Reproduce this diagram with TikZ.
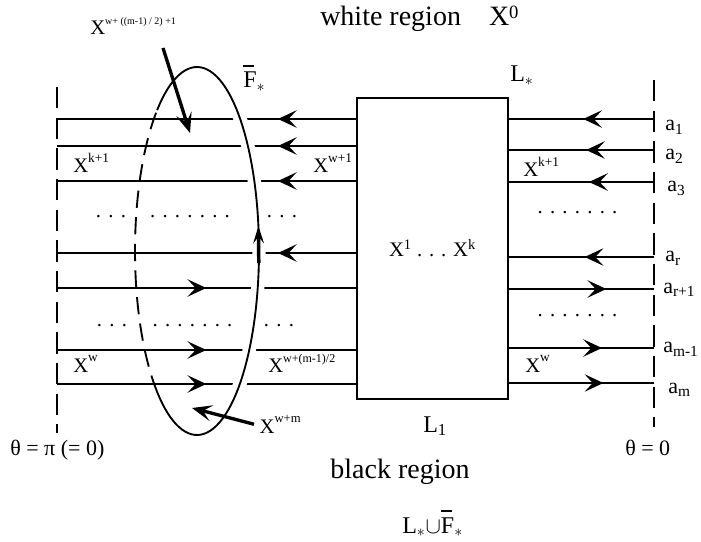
\documentclass[tikz,border=0pt]{standalone}
\usepackage{fontspec}
\setmainfont{Liberation Serif}
\usepackage{tikz}
\usetikzlibrary{arrows.meta,positioning,decorations.markings}
\newcommand{\dd}{\hspace{5.45pt}}
\newcommand{\barF}{\leavevmode\rlap{\raisebox{0.86em}{\rule{0.45em}{0.1em}}}F}
\newcommand{\xsup}[2]{\raisebox{0.5em}{\fontsize{#1}{#1}\selectfont #2}}
\tikzset{
  border/.style={line width=1pt, dash pattern=on 16pt off 7pt},
  flowline/.style={line width=2pt},
  midarrow/.style={postaction={decorate}, decoration={markings, mark=at position #1 with {\arrow{Stealth[length=14pt,width=13pt,inset=6pt]}}}},
  blackbox/.style={draw, line width=2.2pt, minimum width=113.25pt, minimum height=225.75pt, inner sep=0pt, font=\fontsize{15.5}{18}\selectfont},
  fstarline/.style={line width=1.4pt, preaction={draw=white, line width=10pt}},
  fstardash/.style={line width=1.4pt, dash pattern=on 13pt off 7pt},
  pointer/.style={line width=2.5pt, -{Stealth[length=15pt,width=12pt,inset=6.5pt]}},
  uparrow/.style={line width=2.6pt, -{Stealth[length=13pt,width=8pt,inset=5pt]}},
  xlbl/.style={inner sep=0pt, anchor=base west, font=\fontsize{15.5}{18}\selectfont},
  albl/.style={inner sep=0pt, anchor=base west, font=\fontsize{16.5}{19}\selectfont},
  llbl/.style={inner sep=0pt, anchor=base west, font=\fontsize{18}{21}\selectfont},
  regionlbl/.style={inner sep=0pt, font=\fontsize{21}{24}\selectfont},
  dotrow/.style={inner sep=0pt, anchor=base, font=\fontsize{15.5}{18}\selectfont}
}
\begin{document}
\begin{tikzpicture}[x=0.75pt, y=-0.75pt]
  \useasboundingbox (0,0) rectangle (701,542);

  % theta = pi and theta = 0
  \coordinate (ltop) at (57,87);
  \coordinate (lbot) at (57,433);
  \coordinate (rtop) at (654,80);
  \coordinate (rbot) at (654,427);
  \draw[border] (ltop) -- (lbot);
  \draw[border] (rtop) -- (rbot);

  \node[blackbox] (box) at (432.5,248.5) {X\textsuperscript{1} . . . X\textsuperscript{k}};

  % strand ends
  \coordinate (p1) at (57,119);
  \coordinate (p2) at (57,146);
  \coordinate (p3) at (57,181);
  \coordinate (p4) at (57,253);
  \coordinate (p5) at (57,288);
  \coordinate (p6) at (57,350);
  \coordinate (p7) at (57,384);
  \coordinate (q1) at (654,119);
  \coordinate (q2) at (654,150);
  \coordinate (q3) at (654,182);
  \coordinate (q4) at (654,257);
  \coordinate (q5) at (654,289);
  \coordinate (q6) at (654,348);
  \coordinate (q7) at (654,383);

  \draw[flowline, midarrow=0.26] (p1 -| box.west) -- (p1);
  \draw[flowline, midarrow=0.26] (p2 -| box.west) -- (p2);
  \draw[flowline, midarrow=0.26] (p3 -| box.west) -- (p3);
  \draw[flowline, midarrow=0.26] (p4 -| box.west) -- (p4);
  \draw[flowline, midarrow=0.5] (p5) -- (p5 -| box.west);
  \draw[flowline, midarrow=0.5] (p6) -- (p6 -| box.west);
  \draw[flowline, midarrow=0.5] (p7) -- (p7 -| box.west);

  \draw[flowline, midarrow=0.49] (q1) -- (q1 -| box.east);
  \draw[flowline, midarrow=0.47] (q2) -- (q2 -| box.east);
  \draw[flowline, midarrow=0.45] (q3) -- (q3 -| box.east);
  \draw[flowline, midarrow=0.48] (q4) -- (q4 -| box.east);
  \draw[flowline, midarrow=0.67] (q5 -| box.east) -- (q5);
  \draw[flowline, midarrow=0.64] (q6 -| box.east) -- (q6);
  \draw[flowline, midarrow=0.65] (q7 -| box.east) -- (q7);

  % F bar star
  \draw[fstarline] plot[domain=230:490, samples=90] ({197+62*cos(\x)},{251+184*sin(\x)});
  \draw[fstardash] plot[domain=130:230, samples=40] ({197+62*cos(\x)},{251+184*sin(\x)});
  \coordinate (upbase) at (258.8,263);
  \coordinate (uptip) at (258.4,226);
  \draw[uparrow] (upbase) -- (uptip);

  \node[regionlbl, anchor=base west] (white) at (320,26) {white region\quad X\raisebox{0.25em}{\fontsize{14}{14}\selectfont 0}};
  \node[regionlbl, anchor=base] (black) at (400,478) {black region};
  \node[llbl] (union) at (402,533) {L$_\ast{\cup}$\barF$_\ast$};

  \node[llbl] (lstar) at (510,82) {L\textsubscript{$\ast$}};
  \node[llbl] (lone) at (423,432) {L\textsubscript{1}};
  \node[llbl] (fbar) at (243,88) {\barF$_\ast$};

  \node[xlbl] (top) at (90,35) {X\xsup{7.5}{w+ ((m-1) / 2) +1}};
  \node[xlbl, inner xsep=4pt] (wm) at (254,433) {X\xsup{9.5}{w+m}};
  \coordinate (tailin) at (163,48);
  \coordinate (tipin) at (190,133);
  \coordinate (tipout) at (192,408);
  \draw[pointer] (tailin) -- (tipin);
  \draw[pointer] (wm.west) -- (tipout);

  \node[xlbl] (kleft) at (73,173) {X\xsup{10}{k+1}};
  \node[xlbl] (wone) at (313,173) {X\xsup{10}{w+1}};
  \node[xlbl] (kright) at (523,177) {X\xsup{10}{k+1}};
  \node[xlbl] (wleft) at (73,372) {X\xsup{10}{w}};
  \node[xlbl] (whalf) at (268,373) {X\xsup{9}{w+(m-1)/2}};
  \node[xlbl] (wright) at (525,372) {X\xsup{10}{w}};

  \node[dotrow] (da1) at (111,218) {.\dd.\dd.};
  \node[dotrow] (db1) at (190,218) {.\dd.\dd.\dd.\dd.\dd.\dd.};
  \node[dotrow] (dc1) at (282,218) {.\dd.\dd.};
  \node[dotrow] (da2) at (112,326) {.\dd.\dd.};
  \node[dotrow] (db2) at (192.5,326) {.\dd.\dd.\dd.\dd.\dd.\dd.};
  \node[dotrow] (dc2) at (279,326) {.\dd.\dd.};
  \node[dotrow] (dr1) at (577.5,214) {.\dd.\dd.\dd.\dd.\dd.\dd.};
  \node[dotrow] (dr2) at (577.5,316) {.\dd.\dd.\dd.\dd.\dd.\dd.};

  \node[albl] (lab1) at (665,131) {a\textsubscript{1}};
  \node[albl] (lab2) at (665,160) {a\textsubscript{2}};
  \node[albl] (lab3) at (667,192) {a\textsubscript{3}};
  \node[albl] (labr) at (665,262) {a\textsubscript{r}};
  \node[albl] (labr1) at (663,293) {a\textsubscript{r+1}};
  \node[albl] (labm1) at (663,353) {a\textsubscript{m-1}};
  \node[albl] (labm) at (668,393) {a\textsubscript{m}};

  \node[albl] (thpi) at (10,455) {θ = π (= 0)};
  \node[albl] (thzero) at (625,455) {θ = 0};
\end{tikzpicture}
\end{document}
